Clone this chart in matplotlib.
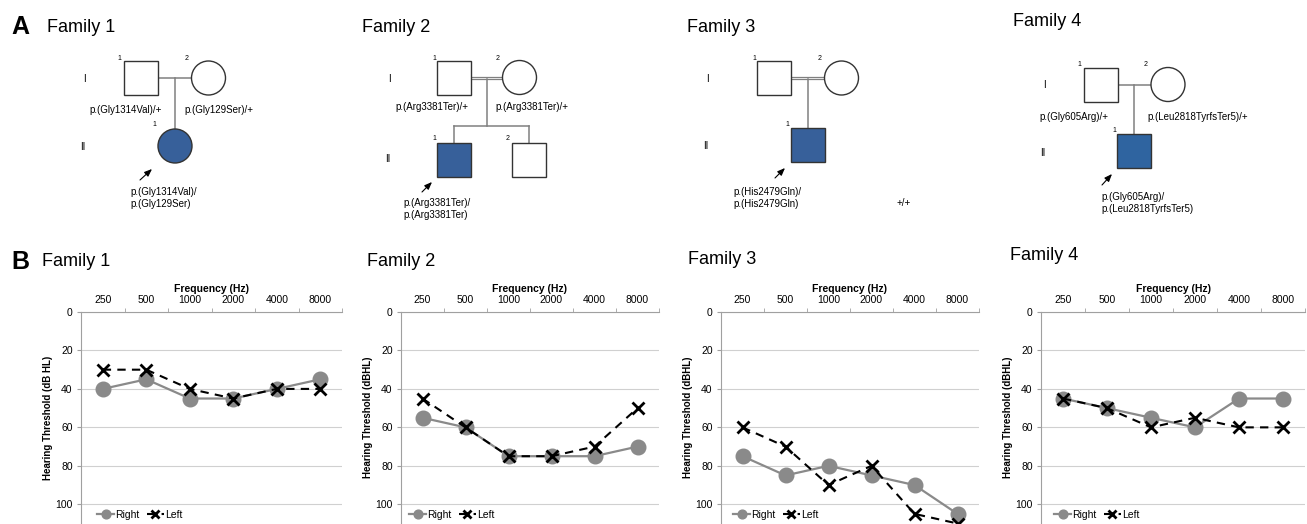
import matplotlib.pyplot as plt
from matplotlib.patches import Rectangle, Circle

plt.rcParams['font.family'] = ['Liberation Sans', 'DejaVu Sans']

W, H = 1307, 524

# audiogram data (dB HL)
freqs = ['250', '500', '1000', '2000', '4000', '8000']
fam1_right = [40, 35, 45, 45, 40, 35]
fam1_left = [30, 30, 40, 45, 40, 40]
fam2_right = [55, 60, 75, 75, 75, 70]
fam2_left = [45, 60, 75, 75, 70, 50]
fam3_right = [75, 85, 80, 85, 90, 105]
fam3_left = [60, 70, 90, 80, 105, 110]
fam4_right = [45, 50, 55, 60, 45, 45]
fam4_left = [45, 50, 60, 55, 60, 60]

right_series = [fam1_right, fam2_right, fam3_right, fam4_right]
left_series = [fam1_left, fam2_left, fam3_left, fam4_left]
ylabels = ['Hearing Threshold (dB HL)', 'Hearing Threshold (dBHL)',
           'Hearing Threshold (dBHL)', 'Hearing Threshold (dBHL)']

# variant labels
fam1_vars = ['p.(Gly1314Val)/+', 'p.(Gly129Ser)/+', 'p.(Gly1314Val)/\np.(Gly129Ser)']
fam2_vars = ['p.(Arg3381Ter)/+', 'p.(Arg3381Ter)/+', 'p.(Arg3381Ter)/\np.(Arg3381Ter)']
fam3_vars = ['p.(His2479Gln)/\np.(His2479Gln)', '+/+']
fam4_vars = ['p.(Gly605Arg)/+', 'p.(Leu2818TyrfsTer5)/+', 'p.(Gly605Arg)/\np.(Leu2818TyrfsTer5)']

BLUE = '#37609a'
EDGE = '#333333'
LINE = '#808080'

fig = plt.figure(figsize=(W / 100, H / 100), dpi=100)
ov = fig.add_axes([0, 0, 1, 1])
ov.set_xlim(0, W)
ov.set_ylim(H, 0)
ov.axis('off')


def square(x, y, s, fill='white'):
    ov.add_patch(Rectangle((x - s / 2, y - s / 2), s, s, facecolor=fill,
                           edgecolor=EDGE, lw=1.0, zorder=3))


def circle(x, y, s, fill='white'):
    ov.add_patch(Circle((x, y), s / 2, facecolor=fill, edgecolor=EDGE,
                        lw=1.0, zorder=3))


def line(xs, ys, **kw):
    ov.plot(xs, ys, color=LINE, lw=1.1, zorder=2, **kw)


def double(x0, x1, y):
    ov.plot([x0, x1], [y - 1.4, y - 1.4], color=LINE, lw=0.9, zorder=2)
    ov.plot([x0, x1], [y + 1.4, y + 1.4], color=LINE, lw=0.9, zorder=2)


def small(x, y, s, ha='left'):
    ov.text(x, y, s, fontsize=5, ha=ha, va='center')


def lab(x, y, s, ha='left'):
    ov.text(x, y, s, fontsize=7, ha=ha, va='center', linespacing=1.25)


def arrow(x0, y0, x1, y1):
    ov.annotate('', xy=(x1, y1), xytext=(x0, y0),
                arrowprops=dict(arrowstyle='-|>,head_length=0.45,head_width=0.18',
                                color='black', lw=0.8, shrinkA=0, shrinkB=0))


S = 34
# Panel labels and titles
ov.text(11, 27, 'A', fontsize=18, fontweight='bold', va='center')
ov.text(11, 262, 'B', fontsize=18, fontweight='bold', va='center')
for x, y, t in [(47, 27, 'Family 1'), (362, 27, 'Family 2'),
                (687, 27, 'Family 3'), (1013, 22, 'Family 4')]:
    ov.text(x, y, t, fontsize=13, va='center')
for x, y, t in [(42, 261, 'Family 1'), (367, 262, 'Family 2'),
                (688, 260, 'Family 3'), (1010, 255, 'Family 4')]:
    ov.text(x, y, t, fontsize=13, va='center')

# Family 1 pedigree
square(141, 78, S)
circle(208.5, 78, S)
line([158, 191], [78, 78])
line([175, 175], [78, 129])
circle(175, 146, S, BLUE)
small(117, 58, '1'); small(185, 58, '2'); small(152, 125, '1')
lab(84, 79, 'I', 'center'); lab(83, 147, 'II', 'center')
lab(162, 110, fam1_vars[0], 'right')
lab(184, 110, fam1_vars[1])
arrow(140, 180, 152, 169)
lab(130, 198, fam1_vars[2])

# Family 2 pedigree
square(453.5, 77.5, S)
circle(519.5, 77.5, S)
double(470, 503, 78)
line([486.7, 486.7], [79, 126])
line([454, 529], [126, 126])
line([454, 454], [126, 143])
line([529, 529], [126, 143])
square(453.5, 159.5, S, BLUE)
square(528.5, 159.5, S)
small(432, 58, '1'); small(496, 58, '2')
small(432, 139, '1'); small(506, 139, '2')
lab(389, 79, 'I', 'center'); lab(388, 159, 'II', 'center')
lab(468, 107, fam2_vars[0], 'right')
lab(495, 107, fam2_vars[1])
arrow(422, 192, 432, 182)
lab(403, 209, fam2_vars[2])

# Family 3 pedigree
square(774, 78, S)
circle(841.5, 78, S)
double(791, 824, 78)
line([807.7, 807.7], [79, 128])
square(808, 145, S, BLUE)
small(752, 58, '1'); small(818, 58, '2'); small(785, 125, '1')
lab(707, 79, 'I', 'center'); lab(706, 146, 'II', 'center')
arrow(775, 178, 785, 168)
lab(733, 198, fam3_vars[0])
lab(897, 203, fam3_vars[1])

# Family 4 pedigree
square(1100.5, 84.5, S)
circle(1168, 84.5, S)
line([1117, 1151], [84.5, 84.5])
line([1134, 1134], [84.5, 134])
square(1134, 151, S, '#2f64a0')
small(1077, 64, '1'); small(1144, 64, '2'); small(1112, 131, '1')
lab(1044, 85, 'I', 'center'); lab(1043, 153, 'II', 'center')
lab(1108, 117, fam4_vars[0], 'right')
lab(1147, 117, fam4_vars[1])
arrow(1102, 185, 1112, 174)
lab(1101, 203, fam4_vars[2])

# Audiograms
ax_px = [(81, 342), (401, 659), (721, 979), (1041, 1305)]
leg_off = [10, 2, 6, 7]
top_px, bot_px = 312, 523.5
x = list(range(len(freqs)))
for i, (l, r) in enumerate(ax_px):
    ax = fig.add_axes([l / W, (H - bot_px) / H, (r - l) / W, (bot_px - top_px) / H])
    ax.set_facecolor('none')
    ax.plot(x, right_series[i], color='#8a8a8a', lw=1.6, marker='o',
            markersize=10.5, markerfacecolor='#8a8a8a', markeredgecolor='#8a8a8a',
            label='Right', zorder=3)
    ax.plot(x, left_series[i], color='black', lw=1.5, ls=(0, (4, 3)), marker='x',
            markersize=9, markeredgewidth=2, label='Left', zorder=4)
    ax.set_xlim(-0.5, len(freqs) - 0.5)
    ax.set_ylim(110, 0)
    ax.set_yticks([0, 20, 40, 60, 80, 100])
    ax.yaxis.grid(True, color='#d0d0d0', lw=0.8)
    ax.set_axisbelow(True)
    ax.xaxis.tick_top()
    ax.xaxis.set_label_position('top')
    ax.set_xticks(x)
    ax.set_xticklabels(freqs)
    ax.set_xticks([k + 0.5 for k in x], minor=True)
    ax.tick_params(axis='x', which='major', length=0, pad=5, labelsize=7.5)
    ax.tick_params(axis='x', which='minor', length=3, color='#a0a0a0', direction='out')
    ax.tick_params(axis='y', length=3, color='#a0a0a0', labelsize=7.5, pad=3)
    ax.set_xlabel('Frequency (Hz)', fontsize=7.5, fontweight='bold', labelpad=2)
    ax.set_ylabel(ylabels[i], fontsize=7, fontweight='bold', labelpad=2)
    for side in ['right', 'bottom']:
        ax.spines[side].set_visible(False)
    ax.spines['top'].set_color('#a0a0a0')
    ax.spines['left'].set_color('#a0a0a0')
    ax.spines['top'].set_linewidth(0.8)
    ax.spines['left'].set_linewidth(0.8)
    ax.legend(loc='lower left', bbox_to_anchor=(leg_off[i] / (r - l), -0.012), ncol=2,
              frameon=False, fontsize=7.5, markerscale=0.6, handlelength=1.6,
              columnspacing=0.7, handletextpad=0.15, borderaxespad=0.2)

fig.savefig('out.png', dpi=100)
